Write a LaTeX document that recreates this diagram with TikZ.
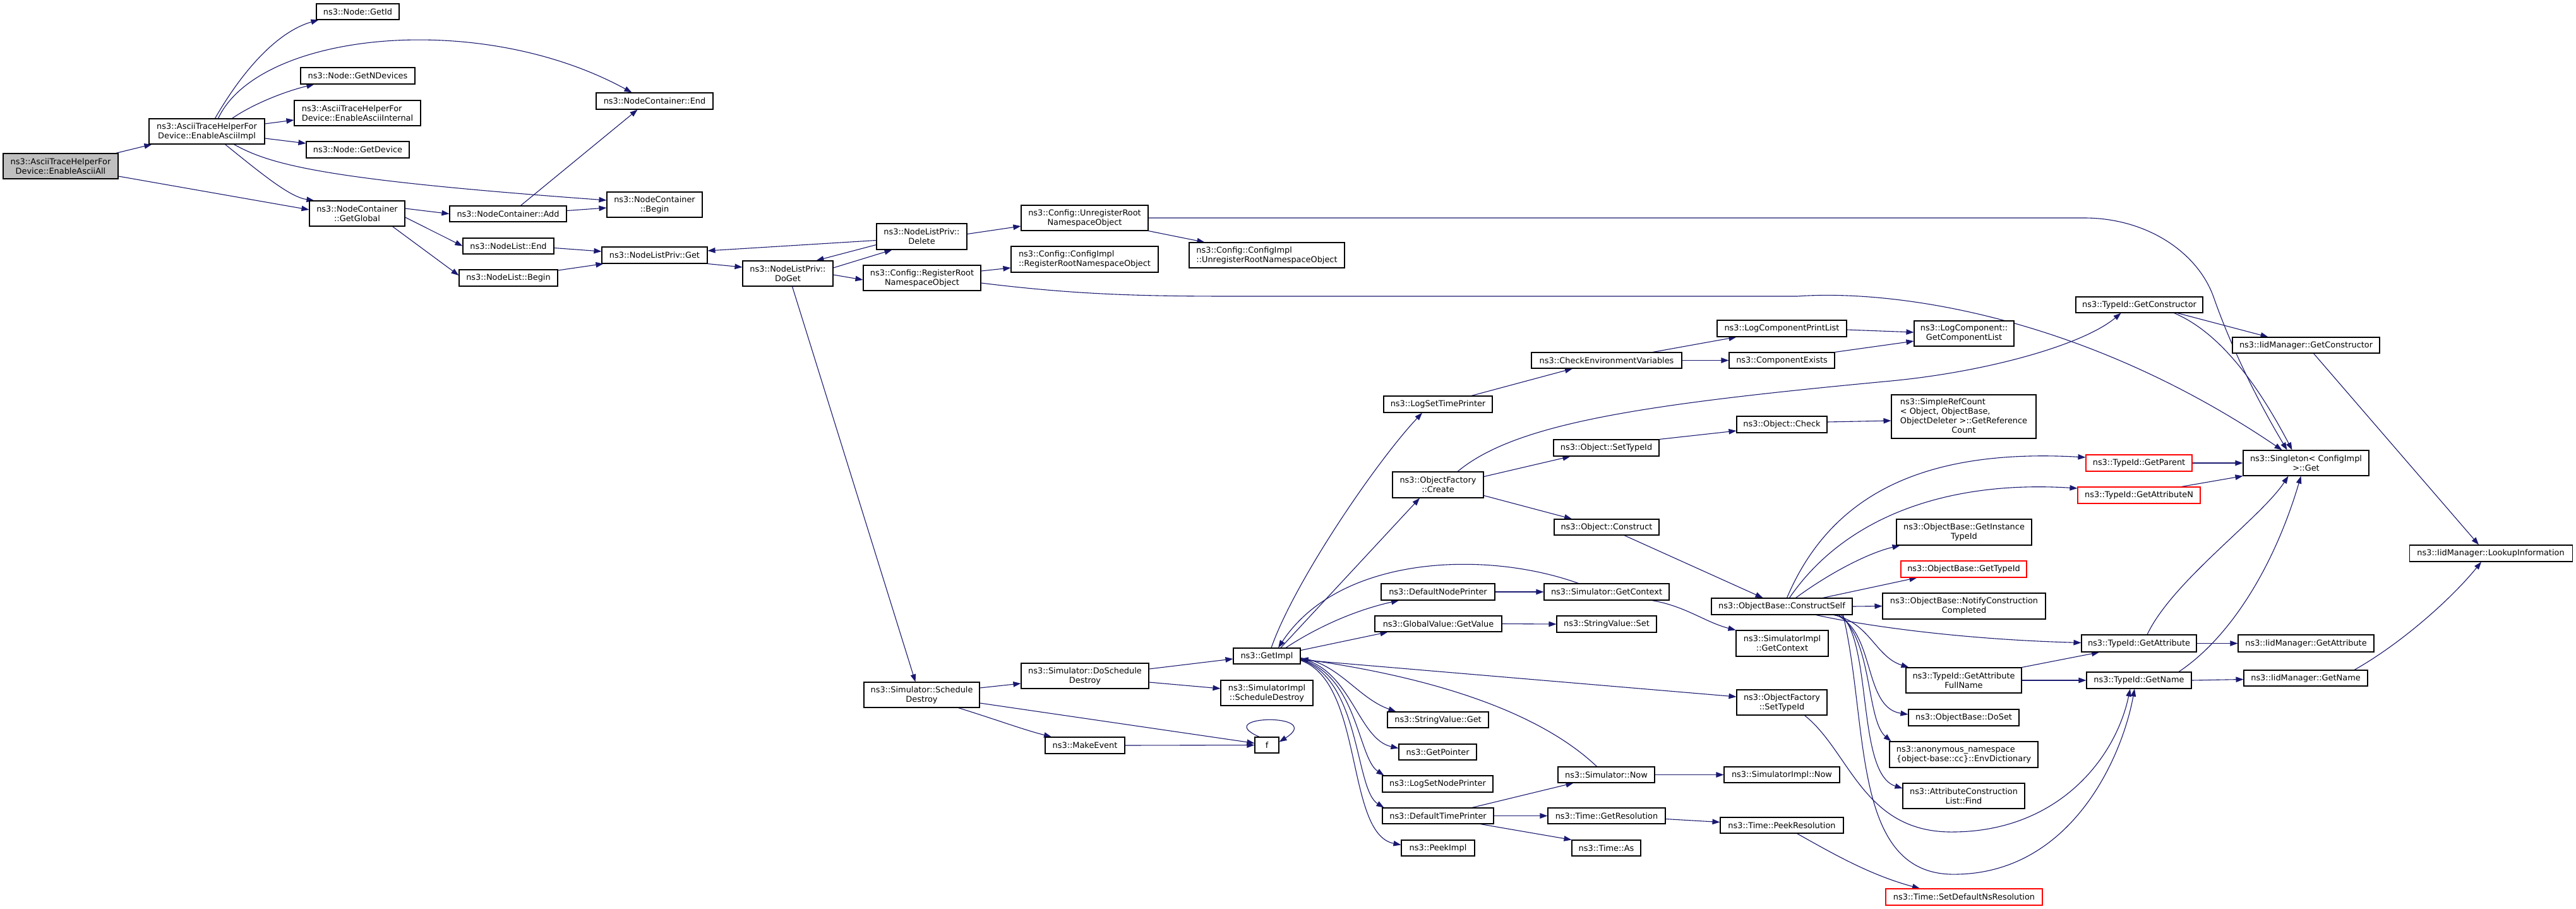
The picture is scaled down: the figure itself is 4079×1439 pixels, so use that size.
\documentclass[tikz,border=0pt]{standalone}
\usepackage{fontspec}
\setmainfont{DejaVu Sans}
\usetikzlibrary{arrows.meta,calc}
\definecolor{edgecol}{HTML}{191970}
\definecolor{rootfill}{HTML}{BFBFBF}
\pgfdeclarelayer{back}
\pgfdeclarelayer{edges}
\pgfsetlayers{back,edges,main}
\tikzset{
  cbox/.style={draw=black, line width=1.1pt, fill=white, inner sep=0pt, align=center,
    font=\fontsize{12.9}{15}\selectfont},
  rootbox/.style={fill=rootfill},
  redbox/.style={draw=red},
  leftbox/.style={align=left},
  edge/.style={draw=edgecol, line width=1.1pt, -{Triangle[length=12pt,width=8.5pt]}},
}
\newcommand{\mkbox}[7][]{\node[cbox,#1,minimum width={(#3-#2)*1pt},minimum height={(#5-#4)*1pt}] (#6) at ({(#2+#3)/2},{(#4+#5)/2}) {#7};}
\begin{document}
\begin{tikzpicture}[x=1pt,y=-1pt]
\begin{pgfonlayer}{back}
\fill[white] (0,0) rectangle (4079,1439);
\end{pgfonlayer}
\useasboundingbox (0,0) rectangle (4079,1439);
% ---------- nodes ----------
\mkbox[rootbox]{5}{187}{243}{283}{A}{ns3::AsciiTraceHelperFor\\Device::EnableAsciiAll}
\mkbox{236}{419}{188}{228}{Impl}{ns3::AsciiTraceHelperFor\\Device::EnableAsciiImpl}
\mkbox{501}{632}{6}{31}{GetId}{ns3::Node::GetId}
\mkbox{476}{657}{107}{133}{GetNDevices}{ns3::Node::GetNDevices}
\mkbox[leftbox]{466}{666}{159}{199}{Internal}{ns3::AsciiTraceHelperFor\\Device::EnableAsciiInternal}
\mkbox{485}{648}{224}{250}{GetDevice}{ns3::Node::GetDevice}
\mkbox{490}{641}{318}{358}{GetGlobal}{ns3::NodeContainer\\::GetGlobal}
\mkbox{944}{1129}{147}{173}{NCEnd}{ns3::NodeContainer::End}
\mkbox{961}{1112}{304}{344}{NCBegin}{ns3::NodeContainer\\::Begin}
\mkbox{712}{897}{326}{351}{NCAdd}{ns3::NodeContainer::Add}
\mkbox{733}{877}{377}{402}{NLEnd}{ns3::NodeList::End}
\mkbox{727}{883}{427}{453}{NLBegin}{ns3::NodeList::Begin}
\mkbox{953}{1120}{391}{417}{NLPGet}{ns3::NodeListPriv::Get}
\mkbox{1176}{1319}{413}{453}{DoGet}{ns3::NodeListPriv::\\DoGet}
\mkbox{1388}{1531}{354}{395}{Delete}{ns3::NodeListPriv::\\Delete}
\mkbox{1367}{1553}{420}{460}{Register}{ns3::Config::RegisterRoot\\NamespaceObject}
\mkbox{1617}{1818}{325}{365}{Unregister}{ns3::Config::UnregisterRoot\\NamespaceObject}
\mkbox[leftbox]{1601}{1834}{390}{431}{CIRegister}{ns3::Config::ConfigImpl\\::RegisterRootNamespaceObject}
\mkbox[leftbox]{1883}{2129}{384}{424}{CIUnregister}{ns3::Config::ConfigImpl\\::UnregisterRootNamespaceObject}
\mkbox{1368}{1551}{1080}{1120}{SchedDestroy}{ns3::Simulator::Schedule\\Destroy}
\mkbox{1617}{1819}{1050}{1090}{DoSchedDestroy}{ns3::Simulator::DoSchedule\\Destroy}
\mkbox{1655}{1781}{1167}{1193}{MakeEvent}{ns3::MakeEvent}
\mkbox{1953}{2059}{1026}{1051}{GetImpl}{ns3::GetImpl}
\mkbox{1933}{2079}{1077}{1117}{SISchedDestroy}{ns3::SimulatorImpl\\::ScheduleDestroy}
\mkbox{1987}{2025}{1167}{1192}{f}{f}
\mkbox{2191}{2363}{627}{653}{LogSetTimePrinter}{ns3::LogSetTimePrinter}
\mkbox{2205}{2349}{747}{788}{Create}{ns3::ObjectFactory\\::Create}
\mkbox{2187}{2367}{924}{950}{DefaultNodePrinter}{ns3::DefaultNodePrinter}
\mkbox{2177}{2378}{975}{1000}{GVGetValue}{ns3::GlobalValue::GetValue}
\mkbox{2197}{2357}{1127}{1152}{SVGet}{ns3::StringValue::Get}
\mkbox{2215}{2338}{1178}{1203}{GetPointer}{ns3::GetPointer}
\mkbox{2189}{2364}{1228}{1254}{LogSetNodePrinter}{ns3::LogSetNodePrinter}
\mkbox{2189}{2365}{1279}{1304}{DefaultTimePrinter}{ns3::DefaultTimePrinter}
\mkbox{2219}{2335}{1330}{1355}{PeekImpl}{ns3::PeekImpl}
\mkbox{2425}{2663}{558}{583}{CheckEnv}{ns3::CheckEnvironmentVariables}
\mkbox{2460}{2627}{696}{722}{ObjSetTypeId}{ns3::Object::SetTypeId}
\mkbox{2461}{2627}{822}{847}{ObjConstruct}{ns3::Object::Construct}
\mkbox{2445}{2643}{924}{950}{SimGetContext}{ns3::Simulator::GetContext}
\mkbox{2465}{2623}{975}{1001}{SVSet}{ns3::StringValue::Set}
\mkbox{2467}{2620}{1214}{1239}{SimNow}{ns3::Simulator::Now}
\mkbox{2451}{2637}{1279}{1304}{TimeGetRes}{ns3::Time::GetResolution}
\mkbox{2489}{2598}{1330}{1355}{TimeAs}{ns3::Time::As}
\mkbox{2719}{2924}{507}{533}{LCPrintList}{ns3::LogComponentPrintList}
\mkbox{2738}{2905}{558}{583}{CompExists}{ns3::ComponentExists}
\mkbox{2750}{2893}{659}{685}{ObjCheck}{ns3::Object::Check}
\mkbox{2710}{2933}{947}{973}{ConstructSelf}{ns3::ObjectBase::ConstructSelf}
\mkbox{2749}{2895}{998}{1039}{SIGetContext}{ns3::SimulatorImpl\\::GetContext}
\mkbox{2750}{2893}{1092}{1132}{OFSetTypeId}{ns3::ObjectFactory\\::SetTypeId}
\mkbox{2730}{2913}{1214}{1239}{SINow}{ns3::SimulatorImpl::Now}
\mkbox{2724}{2919}{1294}{1319}{PeekRes}{ns3::Time::PeekResolution}
\mkbox{3031}{3189}{508}{548}{LCGetList}{ns3::LogComponent::\\GetComponentList}
\mkbox{2995}{3224}{625}{694}{SRC}{\begin{tabular}{@{}l@{}}ns3::SimpleRefCount\\< Object, ObjectBase,\\ObjectDeleter >::GetReference\\\multicolumn{1}{@{}c@{}}{Count}\end{tabular}}
\mkbox{3003}{3217}{822}{863}{GetInstTypeId}{ns3::ObjectBase::GetInstance\\TypeId}
\mkbox[redbox]{3010}{3209}{888}{914}{OBGetTypeId}{ns3::ObjectBase::GetTypeId}
\mkbox{2981}{3239}{939}{980}{Notify}{ns3::ObjectBase::NotifyConstruction\\Completed}
\mkbox{3018}{3201}{1057}{1097}{FullName}{ns3::TypeId::GetAttribute\\FullName}
\mkbox{3022}{3197}{1123}{1149}{DoSet}{ns3::ObjectBase::DoSet}
\mkbox[leftbox]{2992}{3227}{1174}{1215}{Anon}{ns3::anonymous\_namespace\\\{object-base::cc\}::EnvDictionary}
\mkbox{3013}{3206}{1240}{1280}{Find}{ns3::AttributeConstruction\\List::Find}
\mkbox[redbox]{2986}{3234}{1407}{1433}{SetDefNs}{ns3::Time::SetDefaultNsResolution}
\mkbox{3287}{3488}{470}{495}{GetConstructor}{ns3::TypeId::GetConstructor}
\mkbox[redbox]{3303}{3471}{720}{746}{GetParent}{ns3::TypeId::GetParent}
\mkbox[redbox]{3290}{3484}{771}{797}{GetAttrN}{ns3::TypeId::GetAttributeN}
\mkbox{3296}{3478}{1005}{1032}{TIGetAttr}{ns3::TypeId::GetAttribute}
\mkbox{3304}{3470}{1064}{1090}{TIGetName}{ns3::TypeId::GetName}
\mkbox{3535}{3768}{534}{559}{IidGetCons}{ns3::IidManager::GetConstructor}
\mkbox{3552}{3751}{713}{753}{Singleton}{ns3::Singleton< ConfigImpl\\ >::Get}
\mkbox{3544}{3759}{1005}{1032}{IidGetAttr}{ns3::IidManager::GetAttribute}
\mkbox{3553}{3749}{1061}{1086}{IidGetName}{ns3::IidManager::GetName}
\mkbox{3815}{4073}{863}{889}{Lookup}{ns3::IidManager::LookupInformation}
% ---------- edges ----------
\begin{pgfonlayer}{edges}
\draw[edge] ($(A.north east)+(-4,0)$) -- ($(Impl.south west)+(5,0)$);
\draw[edge] ($(A.east)+(0,16)$) -- ($(GetGlobal.west)+(0,-6)$);
\draw[edge] ($(Impl.north)+(13,0)$) .. controls (385,110) and (440,50) .. ($(GetId.south west)+(4,0)$);
\draw[edge] ($(Impl.north)+(18,0)$) .. controls (410,50) and (760,15) .. ($(NCEnd.north)+(-36,0)$);
\draw[edge] ($(Impl.north)+(40,0)$) .. controls (400,165) and (450,145) .. ($(GetNDevices.south west)+(22,0)$);
\draw[edge] ($(Impl.east)+(0,-12)$) -- ($(Internal.west)+(0,11)$);
\draw[edge] ($(Impl.east)+(0,11)$) -- ($(GetDevice.west)+(0,-10)$);
\draw[edge] ($(Impl.south)+(43,0)$) .. controls (430,262) and (520,285) .. ($(NCBegin.west)+(0,-7)$);
\draw[edge] ($(Impl.south)+(29,0)$) .. controls (420,280) and (460,312) .. ($(GetGlobal.north west)+(8,0)$);
\draw[edge] ($(GetGlobal.east)+(0,-8)$) -- (NCAdd.west);
\draw[edge] ($(GetGlobal.east)+(0,6)$) -- (NLEnd.west);
\draw[edge] ($(GetGlobal.south east)+(-20,0)$) -- ($(NLBegin.west)+(0,-4)$);
\draw[edge] ($(NCAdd.north)+(20,0)$) -- ($(NCEnd.south)+(-27,0)$);
\draw[edge] ($(NCAdd.east)+(0,-5)$) -- ($(NCBegin.west)+(0,5)$);
\draw[edge] ($(NLEnd.east)+(0,3)$) -- ($(NLPGet.west)+(0,-6)$);
\draw[edge] ($(NLBegin.east)+(0,-12)$) -- ($(NLPGet.south west)+(3,0)$);
\draw[edge] (NLPGet.south east) -- ($(DoGet.west)+(0,-10)$);
\draw[edge] ($(Delete.west)+(0,6)$) -- ($(NLPGet.east)+(0,-7)$);
\draw[edge] ($(Delete.west)+(0,13)$) -- ($(DoGet.north)+(45,0)$);
\draw[edge] ($(DoGet.east)+(0,-9)$) -- ($(Delete.south)+(-47,0)$);
\draw[edge] ($(DoGet.east)+(0,2)$) -- ($(Register.west)+(0,3)$);
\draw[edge] ($(DoGet.south)+(7,0)$) -- ($(SchedDestroy.north)+(-10,0)$);
\draw[edge] ($(Delete.east)+(0,-4)$) -- ($(Unregister.west)+(0,13)$);
\draw[edge] ($(Register.east)+(0,-11)$) -- ($(CIRegister.west)+(0,13.5)$);
\draw[edge] ($(Register.east)+(0,8)$) .. controls (1700,466) and (1800,469) .. (1950,469) -- (2846,469) .. controls (3000,458) and (3300,500) .. ($(Singleton.north)+(-38,0)$);
\draw[edge] (Unregister.south east) -- ($(CIUnregister.north west)+(25,0)$);
\draw[edge] (Unregister.east) -- (3300,345) .. controls (3400,345) and (3480,400) .. (3505,470) .. controls (3540,570) and (3590,660) .. ($(Singleton.north)+(-30,0)$);
\draw[edge] ($(SchedDestroy.east)+(0,-11)$) -- ($(DoSchedDestroy.west)+(0,12)$);
\draw[edge] ($(SchedDestroy.south)+(58,0)$) .. controls (1580,1140) and (1620,1155) .. ($(MakeEvent.north)+(-53,0)$);
\draw[edge] ($(SchedDestroy.east)+(0,13)$) -- ($(f.west)+(0,-3)$);
\draw[edge] (MakeEvent.east) -- (f.west);
\draw[edge] ($(f.north)+(-12,0)$) .. controls (1915,1132) and (2100,1128) .. ($(f.east)+(0,-5)$);
\draw[edge] ($(DoSchedDestroy.east)+(0,-11)$) -- ($(GetImpl.west)+(0,4.5)$);
\draw[edge] ($(DoSchedDestroy.east)+(0,10)$) -- ($(SISchedDestroy.west)+(0,-7)$);
\draw[edge] ($(GetImpl.north)+(7,0)$) .. controls (2050,920) and (2180,730) .. ($(LogSetTimePrinter.south)+(-25,0)$);
\draw[edge] ($(GetImpl.north)+(22,0)$) -- ($(Create.south)+(-29,0)$);
\draw[edge] ($(GetImpl.north)+(30,0)$) .. controls (2090,990) and (2150,965) .. ($(DefaultNodePrinter.south)+(-62,0)$);
\draw[edge] ($(GetImpl.east)+(0,-9)$) -- ($(GVGetValue.south)+(-80,0)$);
\draw[edge] ($(GetImpl.east)+(0,6)$) -- ($(OFSetTypeId.west)+(0,-9)$);
\draw[edge] ($(GetImpl.east)+(0,3)$) .. controls (2120,1050) and (2150,1105) .. ($(SVGet.north west)+(14,0)$);
\draw[edge] ($(GetImpl.east)+(0,4)$) .. controls (2140,1060) and (2150,1170) .. ($(GetPointer.west)+(0,-6)$);
\draw[edge] ($(GetImpl.east)+(0,5)$) .. controls (2150,1070) and (2150,1200) .. ($(LogSetNodePrinter.north west)+(3,0)$);
\draw[edge] ($(GetImpl.east)+(0,6)$) .. controls (2155,1075) and (2145,1250) .. ($(DefaultTimePrinter.north west)+(3,0)$);
\draw[edge] ($(GetImpl.east)+(0,7)$) .. controls (2160,1080) and (2130,1320) .. ($(PeekImpl.west)+(0,-5)$);
\draw[edge] ($(SimGetContext.north west)+(55,0)$) .. controls (2350,870) and (2120,880) .. ($(GetImpl.north)+(18,0)$);
\draw[edge] ($(SimNow.north)+(-15,0)$) .. controls (2430,1120) and (2250,1070) .. ($(GetImpl.east)+(0,4.5)$);
\draw[edge] (DefaultNodePrinter.east) -- (SimGetContext.west);
\draw[edge] (GVGetValue.east) -- (SVSet.west);
\draw[edge] ($(SimGetContext.south)+(72,0)$) .. controls (2670,960) and (2700,985) .. (SIGetContext.north west);
\draw[edge] ($(LogSetTimePrinter.north)+(53,0)$) -- ($(CheckEnv.south)+(-54,0)$);
\draw[edge] ($(CheckEnv.north)+(73,0)$) -- ($(LCPrintList.south)+(-72,0)$);
\draw[edge] (CheckEnv.east) -- (CompExists.west);
\draw[edge] ($(LCPrintList.east)+(0,2)$) -- ($(LCGetList.west)+(0,-2)$);
\draw[edge] (CompExists.north east) -- ($(LCGetList.west)+(0,12)$);
\draw[edge] ($(Create.north)+(31,0)$) .. controls (2400,670) and (2600,640) .. (2995,603) .. controls (3150,588) and (3300,545) .. ($(GetConstructor.south)+(-29,0)$);
\draw[edge] ($(Create.east)+(0,-13)$) -- ($(ObjSetTypeId.south)+(-57,0)$);
\draw[edge] ($(Create.east)+(0,17)$) -- ($(ObjConstruct.north)+(-55,0)$);
\draw[edge] (ObjSetTypeId.north east) -- ($(ObjCheck.west)+(0,10)$);
\draw[edge] ($(ObjCheck.east)+(0,-4)$) -- ($(SRC.west)+(0,6.5)$);
\draw[edge] ($(ObjConstruct.south)+(28,0)$) -- ($(ConstructSelf.north)+(-30,0)$);
\draw[edge] ($(ConstructSelf.north)+(8,0)$) .. controls (2900,780) and (3050,710) .. ($(GetParent.west)+(0,-9)$);
\draw[edge] ($(ConstructSelf.north)+(12,0)$) .. controls (2920,820) and (3080,760) .. ($(GetAttrN.west)+(0,-11)$);
\draw[edge] ($(ConstructSelf.north)+(22,0)$) .. controls (2900,905) and (2960,875) .. ($(GetInstTypeId.south west)+(6,0)$);
\draw[edge] ($(ConstructSelf.north)+(65,0)$) -- ($(OBGetTypeId.south west)+(26,0)$);
\draw[edge] (ConstructSelf.east) -- (Notify.west);
\draw[edge] ($(ConstructSelf.south)+(54,0)$) .. controls (2950,990) and (3100,1012) .. ($(TIGetAttr.west)+(0,-1)$);
\draw[edge] ($(ConstructSelf.south)+(82,0)$) .. controls (2960,985) and (2970,1040) .. ($(FullName.north west)+(5,0)$);
\draw[edge] ($(ConstructSelf.south)+(86,0)$) .. controls (2970,1000) and (2950,1120) .. ($(DoSet.west)+(0,-5)$);
\draw[edge] ($(ConstructSelf.south)+(90,0)$) .. controls (2965,1010) and (2955,1140) .. ($(Anon.north west)+(3,0)$);
\draw[edge] ($(ConstructSelf.south)+(94,0)$) .. controls (2965,1020) and (2940,1225) .. ($(Find.west)+(0,-12)$);
\draw[edge] ($(ConstructSelf.south)+(97,0)$) .. controls (2960,1150) and (2930,1390) .. (3100,1384) .. controls (3280,1380) and (3360,1200) .. ($(TIGetName.south)+(-7,0)$);
\draw[edge] ($(OFSetTypeId.south)+(36,0)$) .. controls (2930,1190) and (2950,1320) .. (3095,1317) .. controls (3260,1315) and (3350,1200) .. ($(TIGetName.south)+(-14,0)$);
\draw[edge] ($(GetConstructor.south)+(60,0)$) -- ($(IidGetCons.north)+(-60,0)$);
\draw[edge] ($(GetConstructor.south)+(55,0)$) .. controls (3500,520) and (3560,580) .. ($(Singleton.north)+(-22,0)$);
\draw[edge] ($(IidGetCons.south)+(12,0)$) -- ($(Lookup.north)+(-19,0)$);
\draw[edge] (GetParent.east) -- (Singleton.west);
\draw[edge] ($(GetAttrN.north)+(67,0)$) -- (Singleton.south west);
\draw[edge] ($(TIGetAttr.north)+(13,0)$) .. controls (3440,920) and (3580,820) .. ($(Singleton.south)+(-28,0)$);
\draw[edge] (TIGetAttr.east) -- (IidGetAttr.west);
\draw[edge] ($(TIGetName.north)+(63,0)$) .. controls (3530,1010) and (3600,900) .. ($(Singleton.south)+(-8,0)$);
\draw[edge] (TIGetName.east) -- ($(IidGetName.west)+(0,2)$);
\draw[edge] (FullName.north east) -- ($(TIGetAttr.south)+(-63,0)$);
\draw[edge] (FullName.east) -- (TIGetName.west);
\draw[edge] ($(IidGetName.north)+(77,0)$) .. controls (3800,1020) and (3880,950) .. ($(Lookup.south)+(-15,0)$);
\draw[edge] ($(DefaultTimePrinter.north)+(54,0)$) -- ($(SimNow.south)+(-52,0)$);
\draw[edge] (DefaultTimePrinter.east) -- (TimeGetRes.west);
\draw[edge] ($(DefaultTimePrinter.south)+(67,0)$) -- (TimeAs.north west);
\draw[edge] (SimNow.east) -- (SINow.west);
\draw[edge] ($(TimeGetRes.east)+(0,5)$) -- ($(PeekRes.west)+(0,-5)$);
\draw[edge] ($(PeekRes.south)+(24,0)$) .. controls (2900,1350) and (2960,1385) .. ($(SetDefNs.north)+(-70,0)$);
\end{pgfonlayer}
\end{tikzpicture}
\end{document}
